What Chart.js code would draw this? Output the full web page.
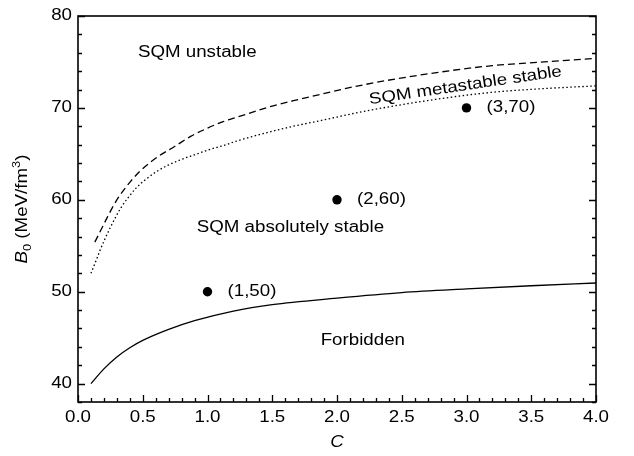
<!DOCTYPE html>
<html>
<head>
<meta charset="utf-8">
<script src="https://cdn.jsdelivr.net/npm/chart.js@4.4.1/dist/chart.umd.min.js"></script>
<style>
  html, body { margin: 0; padding: 0; background: #fff; }
  canvas { display: block; }
</style>
</head>
<body>
<canvas id="chart" width="634" height="456"></canvas>
<script>
// Boundary between the forbidden region and absolutely stable SQM (solid line)
const forbiddenC = [0.1, 0.2, 0.3, 0.4, 0.5, 0.7, 0.9, 1.2, 1.5, 2.0, 2.5, 3.0, 3.5, 4.0];
const forbiddenB = [40.0, 41.6, 42.9, 43.9, 44.7, 45.9, 46.85, 47.9, 48.6, 49.3, 49.9, 50.3, 50.65, 50.95];

// Upper edge of the metastable band (dashed line)
const unstableC = [0.13, 0.18, 0.23, 0.3, 0.35, 0.4, 0.47, 0.56, 0.65, 0.74, 0.87, 1.0, 1.12, 1.23, 1.5, 1.7, 2.2, 2.7, 3.2, 3.6, 4.0];
const unstableB = [55.4, 56.8, 58.2, 60.0, 61.0, 61.9, 63.0, 64.1, 65.0, 65.75, 66.9, 67.8, 68.5, 69.0, 70.2, 70.9, 72.5, 73.7, 74.6, 75.0, 75.4];

// Lower edge of the metastable band (dotted line)
const metastableC = [0.1, 0.14, 0.17, 0.21, 0.25, 0.29, 0.33, 0.38, 0.45, 0.53, 0.61, 0.7, 0.8, 0.9, 1.0, 1.12, 1.25, 1.6, 1.9, 2.2, 2.7, 3.2, 3.6, 4.0];
const metastableB = [52.0, 53.4, 54.5, 55.8, 57.0, 58.1, 59.1, 60.1, 61.3, 62.3, 63.1, 63.8, 64.4, 64.9, 65.4, 65.9, 66.5, 67.8, 68.7, 69.6, 70.8, 71.7, 72.1, 72.4];

// Parameter sets marked on the diagram
const sampleC = [1, 2, 3];
const sampleB = [50, 60, 70];
const sampleLabels = ['(1,50)', '(2,60)', '(3,70)'];

// Axis tick labels
const xTickLabels = ['0.0', '0.5', '1.0', '1.5', '2.0', '2.5', '3.0', '3.5', '4.0'];
const yTickLabels = ['40', '50', '60', '70', '80'];

// Region names, placed in data coordinates
const regionNames = ['SQM unstable', 'SQM absolutely stable', 'Forbidden'];
const regionC = [0.463, 0.917, 1.874];
const regionB = [76.0, 57.0, 44.67];

const FONT = '"Liberation Sans", Arial, Helvetica, sans-serif';
const STRETCH = 1.17;

const toXY = (xs, ys) => xs.map((x, i) => ({ x: x, y: ys[i] }));

function drawText(ctx, text, x, y, opts) {
  const o = Object.assign({ size: 16, style: '', align: 'left', baseline: 'middle', angle: 0 }, opts || {});
  ctx.save();
  ctx.translate(x, y);
  ctx.rotate(o.angle);
  ctx.scale(STRETCH, 1);
  ctx.font = (o.style ? o.style + ' ' : '') + o.size + 'px ' + FONT;
  ctx.textAlign = o.align;
  ctx.textBaseline = o.baseline;
  ctx.fillStyle = '#000';
  ctx.fillText(text, 0, 0);
  ctx.restore();
}

const framePlugin = {
  id: 'frame',
  afterDraw(chart) {
    const ctx = chart.ctx;
    const a = chart.chartArea;
    const xs = chart.scales.x;
    const ys = chart.scales.y;

    ctx.save();
    ctx.strokeStyle = '#000';
    ctx.lineWidth = 1.6;
    ctx.strokeRect(a.left, a.top, a.right - a.left, a.bottom - a.top);

    // inward ticks: bottom axis
    ctx.lineWidth = 1.3;
    ctx.beginPath();
    for (let i = 0; i <= 40; i++) {
      const px = Math.round(xs.getPixelForValue(i / 10)) + 0.5;
      const len = i % 5 === 0 ? 7 : 4;
      ctx.moveTo(px, a.bottom);
      ctx.lineTo(px, a.bottom - len);
    }
    // inward ticks: left and right axes
    for (let v = 38; v <= 80; v += 2) {
      const py = Math.round(ys.getPixelForValue(v)) + 0.5;
      const len = v % 10 === 0 ? 7 : 4;
      ctx.moveTo(a.left, py);
      ctx.lineTo(a.left + len, py);
      ctx.moveTo(a.right, py);
      ctx.lineTo(a.right - len, py);
    }
    ctx.stroke();
    ctx.restore();

    // tick labels
    xTickLabels.forEach(t => {
      drawText(ctx, t, xs.getPixelForValue(parseFloat(t)), a.bottom + 15.5, { align: 'center' });
    });
    yTickLabels.forEach(t => {
      drawText(ctx, t, a.left - 6, ys.getPixelForValue(parseFloat(t)), { align: 'right' });
    });

    // x axis title
    drawText(ctx, 'C', (a.left + a.right) / 2, a.bottom + 41, { style: 'italic', align: 'center' });

    // y axis title: B0 (MeV/fm3) with sub/superscript, rotated
    const parts = [
      { t: 'B', size: 16, style: 'italic', dy: 0 },
      { t: '0', size: 11, style: '', dy: 4 },
      { t: ' (MeV/fm', size: 16, style: '', dy: 0 },
      { t: '3', size: 11, style: '', dy: -7 },
      { t: ')', size: 16, style: '', dy: 0 }
    ];
    ctx.save();
    let total = 0;
    parts.forEach(p => {
      ctx.font = (p.style ? p.style + ' ' : '') + p.size + 'px ' + FONT;
      p.w = ctx.measureText(p.t).width * STRETCH;
      total += p.w;
    });
    ctx.translate(26.5, (a.top + a.bottom) / 2);
    ctx.rotate(-Math.PI / 2);
    let cx = -total / 2;
    parts.forEach(p => {
      ctx.save();
      ctx.translate(cx, p.dy);
      ctx.scale(STRETCH, 1);
      ctx.font = (p.style ? p.style + ' ' : '') + p.size + 'px ' + FONT;
      ctx.textAlign = 'left';
      ctx.textBaseline = 'alphabetic';
      ctx.fillStyle = '#000';
      ctx.fillText(p.t, 0, 0);
      ctx.restore();
      cx += p.w;
    });
    ctx.restore();

    // region names
    regionNames.forEach((n, i) => {
      drawText(ctx, n, xs.getPixelForValue(regionC[i]), ys.getPixelForValue(regionB[i]));
    });
    // label along the metastable band
    drawText(ctx, 'SQM metastable stable', xs.getPixelForValue(2.997), ys.getPixelForValue(71.94),
      { align: 'center', baseline: 'alphabetic', angle: -8.4 * Math.PI / 180 });

    // labels next to the marked parameter sets
    sampleLabels.forEach((l, i) => {
      drawText(ctx, l, xs.getPixelForValue(sampleC[i]) + 20, ys.getPixelForValue(sampleB[i]));
    });
  }
};

const lineBase = {
  showLine: true,
  borderColor: '#000',
  borderWidth: 1.3,
  pointRadius: 0,
  pointHoverRadius: 0,
  fill: false,
  cubicInterpolationMode: 'monotone'
};

new Chart(document.getElementById('chart'), {
  type: 'scatter',
  data: {
    datasets: [
      Object.assign({}, lineBase, { label: 'Forbidden boundary', data: toXY(forbiddenC, forbiddenB) }),
      Object.assign({}, lineBase, { label: 'Unstable boundary', data: toXY(unstableC, unstableB), borderDash: [7, 4] }),
      Object.assign({}, lineBase, { label: 'Metastable boundary', data: toXY(metastableC, metastableB), borderDash: [1.5, 2.5] }),
      {
        label: 'Samples',
        data: toXY(sampleC, sampleB),
        showLine: false,
        pointRadius: 4.7,
        pointBackgroundColor: '#000',
        pointBorderColor: '#000',
        pointBorderWidth: 0
      }
    ]
  },
  options: {
    responsive: false,
    animation: false,
    devicePixelRatio: 1,
    layout: { padding: { left: 78, top: 16, right: 38, bottom: 54 } },
    plugins: { legend: { display: false }, tooltip: { enabled: false } },
    scales: {
      x: { type: 'linear', min: 0, max: 4, display: false },
      y: { type: 'linear', min: 38, max: 80, display: false }
    }
  },
  plugins: [framePlugin]
});
</script>
</body>
</html>
